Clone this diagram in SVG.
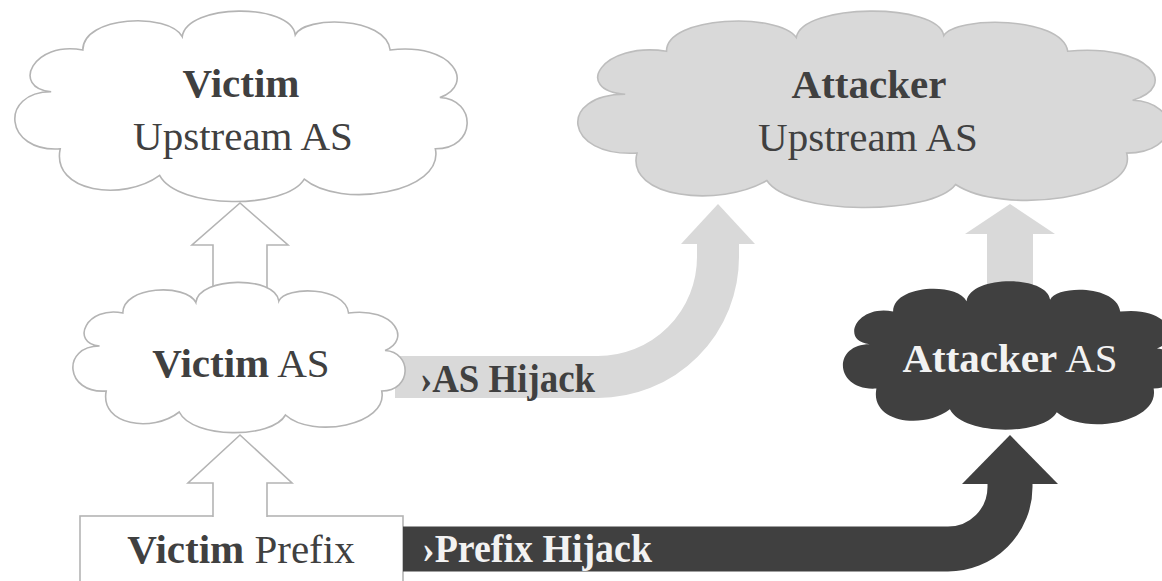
<svg xmlns="http://www.w3.org/2000/svg" xmlns:xlink="http://www.w3.org/1999/xlink" width="1162" height="581" viewBox="0 0 1162 581">
  <style>
    .label { font-family: "Liberation Serif", "Times New Roman", serif; font-size: 41px; fill: #404040; text-anchor: middle; }
    .label.inv { fill: #f2f2f2; }
    .b { font-weight: bold; }
    .tag { font-family: "Liberation Serif", "Times New Roman", serif; font-size: 40px; font-weight: bold; }
    .cloud-shape { vector-effect: non-scaling-stroke; }
    .white-node { fill: #ffffff; stroke: #b4b4b4; stroke-width: 1.6; }
    .grey-node { fill: #d9d9d9; stroke: #bdbdbd; stroke-width: 1.6; }
    .dark-node { fill: #404040; stroke: none; }
    .hollow { fill: #ffffff; stroke: #b4b4b4; stroke-width: 1.6; stroke-linejoin: miter; }
  </style>
  <defs>
    <!-- cloud outline in a 100 x 100 box, scaled per node -->
    <path id="cloud" class="cloud-shape" d="M8,42 C-1,40 4,15 15,20 C15,2 34,0 37,13 C38,-4.5 61,-5 62,12 C64,2 82,2 83,20 C97,16 102,38 94,45 C102.2,46 102.2,72 93,72 C95,95 72,104 64,88 C60,104 36,104 32,86 C24,100 8,95 10,72 C-2.5,74 -3.5,42 8,42 Z"/>
  </defs>

  <rect width="1162" height="581" fill="#ffffff"/>

  <g id="victim-prefix">
    <rect x="80" y="516" width="323" height="80" class="white-node"/>
    <text class="label" x="241" y="563"><tspan class="b">Victim</tspan> Prefix</text>
  </g>

  <g id="connectors">
    <!-- announcements along the legitimate path -->
    <path class="hollow" d="M213,292 V245 H192 L240,203 L288,245 H267 V292"/>
    <path class="hollow" d="M213,517 V483 H188 L240,435 L292,483 H267 V517"/>
    <!-- attacker AS to its upstream -->
    <path fill="#d9d9d9" d="M987,292 V234 H965 L1010,204 L1055,234 H1033 V292 Z"/>
    <!-- AS hijack -->
    <path fill="none" stroke="#d9d9d9" stroke-width="42" d="M395,377 H598 A120,120 0 0 0 718,257 V240"/>
    <polygon fill="#d9d9d9" points="681,244 755,244 718,204"/>
    <text class="tag" x="420" y="392" fill="#404040" textLength="175" lengthAdjust="spacingAndGlyphs">›AS Hijack</text>
    <!-- prefix hijack -->
    <path fill="none" stroke="#404040" stroke-width="45" d="M403,549 H948 A62,62 0 0 0 1010,487 V480"/>
    <polygon fill="#404040" points="962,484 1058,484 1010,435"/>
    <text class="tag" x="422" y="562" fill="#f2f2f2" textLength="230" lengthAdjust="spacingAndGlyphs">›Prefix Hijack</text>
  </g>

  <g id="victim-upstream-as">
    <use xlink:href="#cloud" class="white-node" transform="translate(15,12) scale(4.52,1.9)"/>
    <text class="label" x="241" y="97"><tspan class="b">Victim</tspan></text>
    <text class="label" x="243" y="150">Upstream AS</text>
  </g>

  <g id="attacker-upstream-as">
    <use xlink:href="#cloud" class="grey-node" transform="translate(578,12) scale(5.9,1.96)"/>
    <text class="label" x="869" y="98"><tspan class="b">Attacker</tspan></text>
    <text class="label" x="868" y="151">Upstream AS</text>
  </g>

  <g id="victim-as">
    <use xlink:href="#cloud" class="white-node" transform="translate(73,283) scale(3.32,1.5)"/>
    <text class="label" x="241" y="377"><tspan class="b">Victim</tspan> AS</text>
  </g>

  <g id="attacker-as">
    <use xlink:href="#cloud" class="dark-node" transform="translate(843,282) scale(3.34,1.48)"/>
    <text class="label inv" x="1010" y="372"><tspan class="b">Attacker</tspan> AS</text>
  </g>
</svg>
